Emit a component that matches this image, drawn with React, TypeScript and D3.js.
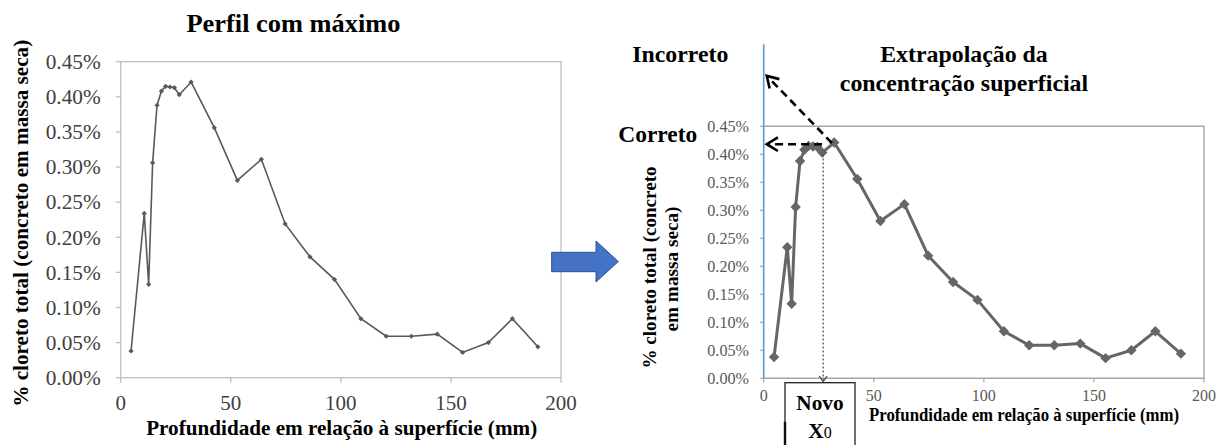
import React from "react";
import * as d3 from "d3";

// ---- data ----
const depthMm = [4.7, 10.7, 12.7, 14.5, 16.5, 18.5, 20.4, 22.4, 24.4, 26.6, 32, 42.5, 53, 63.9, 74.7, 86, 97.1, 109.1, 120.6, 132, 143.8, 155.3, 167, 177.9, 189.5];
const chloridePct = [0.038, 0.234, 0.133, 0.306, 0.388, 0.408, 0.415, 0.414, 0.413, 0.403, 0.421, 0.356, 0.281, 0.311, 0.219, 0.172, 0.14, 0.084, 0.059, 0.059, 0.062, 0.036, 0.05, 0.084, 0.044];
const yTickValues = [0, 0.05, 0.1, 0.15, 0.2, 0.25, 0.3, 0.35, 0.4, 0.45];
const xTickValues = [0, 50, 100, 150, 200];
// annotation values (right chart)
const incorrectStart = { depth: 31, value: 0.42 };
const incorrectTip = { depth: 1.4, value: 0.54 };
const correctStart = { depth: 26.5, value: 0.418 };
const correctTip = { depth: 1.4, value: 0.418 };
const novoX0Depth = 27;

const FONT = "Liberation Serif, Tinos, Times New Roman, Times, DejaVu Serif, Noto Serif, serif";

function chevron(tx: number, ty: number, fx: number, fy: number, len = 12, ang = 0.6) {
  const a = Math.atan2(fy - ty, fx - tx);
  const p1 = [tx + len * Math.cos(a + ang), ty + len * Math.sin(a + ang)];
  const p2 = [tx + len * Math.cos(a - ang), ty + len * Math.sin(a - ang)];
  return `M${p1[0]},${p1[1]}L${tx},${ty}L${p2[0]},${p2[1]}`;
}

export default function App() {
  const data = depthMm.map((d, i) => ({ d, v: chloridePct[i] }));

  const xL = d3.scaleLinear().domain([0, 200]).range([120.7, 561]);
  const yL = d3.scaleLinear().domain([0, 0.45]).range([377.7, 61.7]);
  const xR = d3.scaleLinear().domain([0, 200]).range([763.7, 1204]);
  const yR = d3.scaleLinear().domain([0, 0.45]).range([378.3, 126.3]);

  const lineL = d3.line<{ d: number; v: number }>().x((p) => xL(p.d)).y((p) => yL(p.v));
  const lineR = d3.line<{ d: number; v: number }>().x((p) => xR(p.d)).y((p) => yR(p.v));
  const fmt = (v: number) => v.toFixed(2) + "%";
  const diamond = (cx: number, cy: number, r: number) => `M${cx},${cy - r}L${cx + r},${cy}L${cx},${cy + r}L${cx - r},${cy}Z`;

  const iS = [xR(incorrectStart.depth), yR(incorrectStart.value)];
  const iT = [xR(incorrectTip.depth), yR(incorrectTip.value)];
  const cS = [xR(correctStart.depth), yR(correctStart.value)];
  const cT = [xR(correctTip.depth), yR(correctTip.value)];
  const nx = xR(novoX0Depth);
  const nTopIdx = depthMm.findIndex((d) => d >= 26.6);
  const nTop = yR(chloridePct[nTopIdx]) + 2;
  const nBot = yR(0) + 3.5;
  const LA = "spacingAndGlyphs";

  return (
    <svg width={1223} height={445} style={{ position: "absolute", left: 0, top: 0, background: "#fff", fontFamily: FONT }}>
      {/* ---------- LEFT CHART ---------- */}
      <text x={293.5} y={31.7} fontSize={26} fontWeight="bold" textAnchor="middle" fill="#000" textLength={214} lengthAdjust={LA}>Perfil com máximo</text>
      <rect x={xL(0)} y={yL(0.45)} width={xL(200) - xL(0)} height={yL(0) - yL(0.45)} fill="none" stroke="#bfbfbf" strokeWidth={1.3} />
      {yTickValues.map((t) => (
        <g key={"yl" + t}>
          <line x1={xL(0) - 5} x2={xL(0)} y1={yL(t)} y2={yL(t)} stroke="#bfbfbf" strokeWidth={1.3} />
          <text x={100.7} y={yL(t)} dy="0.35em" fontSize={21} textAnchor="end" fill="#404040" textLength={55} lengthAdjust={LA}>{fmt(t)}</text>
        </g>
      ))}
      {xTickValues.map((t) => (
        <g key={"xl" + t}>
          <line x1={xL(t)} x2={xL(t)} y1={yL(0)} y2={yL(0) + 5} stroke="#bfbfbf" strokeWidth={1.3} />
          <text x={xL(t)} y={410} fontSize={21} textAnchor="middle" fill="#404040">{t}</text>
        </g>
      ))}
      <path d={lineL(data) || ""} fill="none" stroke="#595959" strokeWidth={1.6} />
      {data.map((p, i) => (
        <path key={"ml" + i} d={diamond(xL(p.d), yL(p.v), 2.6)} fill="#595959" />
      ))}
      <text x={341.7} y={435} fontSize={21} fontWeight="bold" textAnchor="middle" fill="#000" textLength={391} lengthAdjust={LA}>Profundidade em relação à superfície (mm)</text>
      <text transform="translate(28,223.3) rotate(-90)" fontSize={21} fontWeight="bold" textAnchor="middle" fill="#000" textLength={367} lengthAdjust={LA}>% cloreto total (concreto em massa seca)</text>

      {/* ---------- BLUE ARROW ---------- */}
      <path d="M551.7,252.3L596,252.3L596,241L618.3,261.5L596,282L596,271.7L551.7,271.7Z" fill="#4472c4" stroke="#2f528f" strokeWidth={1} />

      {/* ---------- RIGHT CHART ---------- */}
      <path d={`M${xR(0)},${yR(0.45)}L${xR(200)},${yR(0.45)}L${xR(200)},${yR(0)}L${xR(0)},${yR(0)}`} fill="none" stroke="#a6a6a6" strokeWidth={1.4} />
      {yTickValues.map((t) => (
        <g key={"yr" + t}>
          <line x1={xR(0) - 4} x2={xR(0)} y1={yR(t)} y2={yR(t)} stroke="#a6a6a6" strokeWidth={1.2} />
          <text x={749} y={yR(t)} dy="0.35em" fontSize={16} textAnchor="end" fill="#595959" textLength={41.7} lengthAdjust={LA}>{fmt(t)}</text>
        </g>
      ))}
      {xTickValues.map((t) => (
        <g key={"xr" + t}>
          <line x1={xR(t)} x2={xR(t)} y1={yR(0)} y2={yR(0) + 4} stroke="#a6a6a6" strokeWidth={1.2} />
          <text x={xR(t)} y={400.5} fontSize={16} textAnchor="middle" fill="#595959">{t}</text>
        </g>
      ))}
      <line x1={xR(0)} x2={xR(0)} y1={44.3} y2={yR(0)} stroke="#5b9bd5" strokeWidth={1.6} />
      <path d={lineR(data) || ""} fill="none" stroke="#666666" strokeWidth={3} strokeLinejoin="round" />
      {data.map((p, i) => (
        <path key={"mr" + i} d={diamond(xR(p.d), yR(p.v), 5.2)} fill="#666666" />
      ))}

      {/* dotted line to Novo X0 */}
      <line x1={nx} x2={nx} y1={nTop} y2={nBot} stroke="#444" strokeWidth={1.2} strokeDasharray="2,2" />
      <path d={chevron(nx, nBot, nx, nBot - 10, 7, 0.6)} fill="none" stroke="#444" strokeWidth={1.2} />

      {/* dashed arrows */}
      <line x1={iS[0]} y1={iS[1]} x2={iT[0] + 2} y2={iT[1] + 2} stroke="#000" strokeWidth={2.6} strokeDasharray="8,5" />
      <path d={chevron(iT[0], iT[1], iS[0], iS[1], 13, 0.55)} fill="none" stroke="#000" strokeWidth={2.6} />
      <line x1={cS[0]} y1={cS[1]} x2={cT[0] + 2} y2={cT[1]} stroke="#000" strokeWidth={2.6} strokeDasharray="8,5" />
      <path d={chevron(cT[0], cT[1], cS[0], cS[1], 13, 0.55)} fill="none" stroke="#000" strokeWidth={2.6} />

      {/* annotation texts */}
      <text x={632.3} y={62.3} fontSize={24} fontWeight="bold" fill="#000" textLength={96} lengthAdjust={LA}>Incorreto</text>
      <text x={618.3} y={141.7} fontSize={24} fontWeight="bold" fill="#000" textLength={79} lengthAdjust={LA}>Correto</text>
      <text x={964} y={62.3} fontSize={24} fontWeight="bold" textAnchor="middle" fill="#000" textLength={167.6} lengthAdjust={LA}>Extrapolação da</text>
      <text x={964} y={90.7} fontSize={24} fontWeight="bold" textAnchor="middle" fill="#000" textLength={248.3} lengthAdjust={LA}>concentração superficial</text>

      {/* Novo X0 box */}
      <rect x={785} y={382.7} width={70} height={80} fill="#fff" stroke="#222" strokeWidth={1.3} />
      <line x1={785} x2={785} y1={421.7} y2={445} stroke="#111" strokeWidth={2.4} />
      <text x={820} y={410} fontSize={21.5} fontWeight="bold" textAnchor="middle" fill="#000" textLength={47.3} lengthAdjust={LA}>Novo</text>
      <text x={820} y={437.7} fontSize={21.5} fontWeight="bold" textAnchor="middle" fill="#000">
        X<tspan fontSize={16} fontWeight="normal">0</tspan>
      </text>

      <text x={1024} y={421} fontSize={19} fontWeight="bold" textAnchor="middle" textLength={310} lengthAdjust={LA} fill="#000">Profundidade em relação à superfície (mm)</text>
      <g fontSize={19} fontWeight="bold" fill="#000" textAnchor="middle">
        <text transform="translate(656,267.5) rotate(-90)" textLength={202} lengthAdjust={LA}>% cloreto total (concreto</text>
        <text transform="translate(678,269) rotate(-90)" textLength={125} lengthAdjust={LA}>em massa seca)</text>
      </g>
    </svg>
  );
}
